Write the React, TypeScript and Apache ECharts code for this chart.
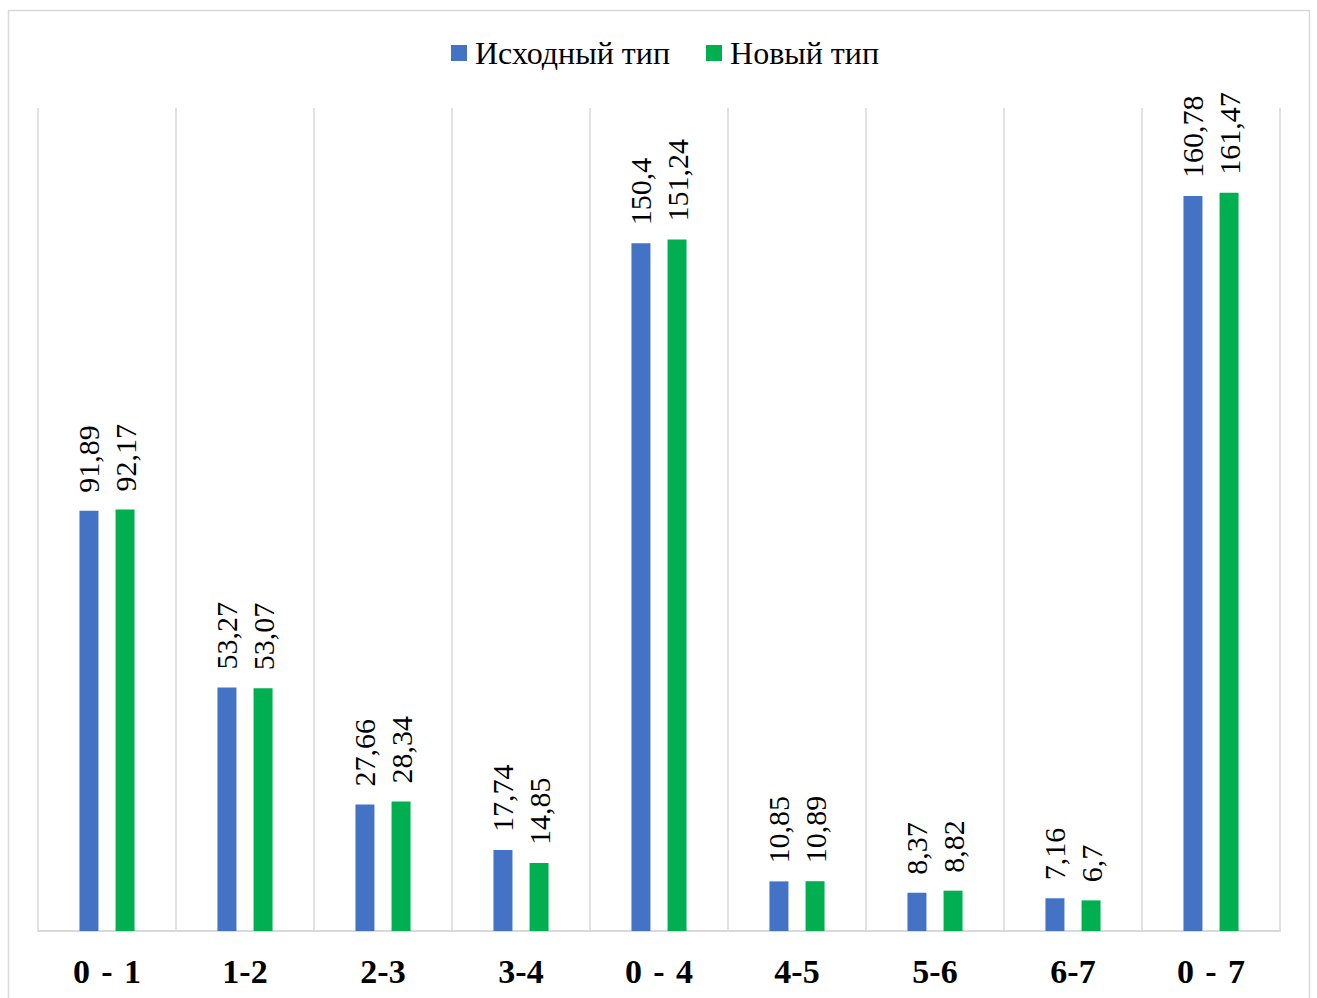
import React, { useEffect, useRef } from "react";
import * as echarts from "echarts";

const categories = ["0\u2004-\u20041", "1-2", "2-3", "3-4", "0\u2004-\u20044", "4-5", "5-6", "6-7", "0\u2004-\u20047"];
const seriesNames = ["Исходный тип", "Новый тип"];
const originalValues = [91.89, 53.27, 27.66, 17.74, 150.4, 10.85, 8.37, 7.16, 160.78];
const newValues = [92.17, 53.07, 28.34, 14.85, 151.24, 10.89, 8.82, 6.7, 161.47];
const colors = ["#4472C4", "#00B050"];

const FONT = "Times New Roman";

const fmt = (v: number) => String(v).replace(".", ",");

export default function App() {
  const ref = useRef<HTMLDivElement>(null);
  useEffect(() => {
    if (!ref.current) return;
    const chart = echarts.init(ref.current, undefined, { renderer: "svg" });
    const mkLabel = () => ({
      show: true,
      position: "top" as const,
      rotate: 90,
      align: "left" as const,
      verticalAlign: "middle" as const,
      distance: 18,
      fontFamily: FONT,
      fontStyle: "normal" as const,
      fontWeight: "normal" as const,
      fontSize: 30,
      color: "#000",
      formatter: (p: any) => fmt(p.value),
    });
    chart.setOption({
      animation: false,
      backgroundColor: "#fff",
      textStyle: { fontFamily: FONT },
      graphic: [
        {
          type: "rect",
          shape: { x: 8.5, y: 10.5, width: 1301, height: 1000 },
          style: { fill: "none", stroke: "#d9d9d9", lineWidth: 1.5 },
          silent: true,
        },
      ],
      legend: {
        left: 451,
        top: 37,
        padding: 0,
        itemWidth: 16,
        itemHeight: 16,
        itemGap: 36,
        icon: "rect",
        textStyle: { fontFamily: FONT, fontSize: 32, color: "#000", padding: [0, 0, 0, 3] },
        data: seriesNames,
      },
      grid: { left: 38, right: 37, top: 108, bottom: 67, containLabel: false },
      xAxis: {
        type: "category",
        data: categories,
        axisLine: { show: true, lineStyle: { color: "#d9d9d9", width: 2 } },
        axisTick: { show: false },
        splitLine: { show: true, lineStyle: { color: "#d9d9d9", width: 1.5 } },
        axisLabel: {
          fontFamily: FONT,
          fontSize: 34,
          fontWeight: "bold",
          color: "#000",
          margin: 23,
        },
      },
      yAxis: {
        type: "value",
        min: 0,
        max: 180,
        show: false,
        splitLine: { show: false },
      },
      series: [
        {
          name: seriesNames[0],
          type: "bar",
          data: originalValues,
          barWidth: 19,
          barGap: "90%",
          itemStyle: { color: colors[0] },
          label: mkLabel(),
        },
        {
          name: seriesNames[1],
          type: "bar",
          data: newValues,
          barWidth: 19,
          barGap: "90%",
          itemStyle: { color: colors[1] },
          label: mkLabel(),
        },
      ],
    });
    return () => chart.dispose();
  }, []);
  return (
    <div
      ref={ref}
      style={{ position: "absolute", left: 0, top: 0, width: 1317, height: 998 }}
    />
  );
}
